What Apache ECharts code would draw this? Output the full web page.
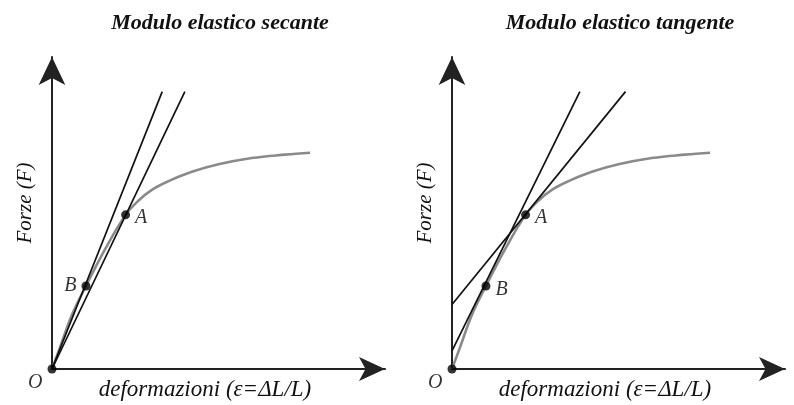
<!DOCTYPE html>
<html>
<head>
<meta charset="utf-8">
<script src="https://cdn.jsdelivr.net/npm/echarts@6/dist/echarts.min.js"></script>
<style>
  html, body { margin: 0; padding: 0; background: #fff; }
  #chart { width: 794px; height: 405px; }
</style>
</head>
<body>
<div id="chart"></div>
<script>
// stress-strain curve (same in both panels)
const curve = [
  [0, 0], [0.25, 0.72], [0.6, 1.74], [1.02, 2.66], [1.6, 3.85],
  [2.21, 4.94], [2.6, 5.4], [3.0, 5.74], [3.5, 6.02], [4.2, 6.32],
  [5.0, 6.56], [6.0, 6.76], [7.0, 6.87], [7.75, 6.93]
]
const pointA = [2.21, 4.94]
const pointB = [1.02, 2.66]

// left panel: secant lines from O
const secantB = [[0, 0], [3.31, 8.89]]
const secantA = [[0, 0], [3.99, 8.89]]

// right panel: tangent lines
const tangentB = [[0, 0.58], [3.84, 8.89]]
const tangentA = [[0, 2.07], [5.21, 8.89]]

const panelTitles = ['Modulo elastico secante', 'Modulo elastico tangente']
const xName = 'deformazioni (ε=ΔL/L)'
const yName = 'Forze (F)'

const serif = '"Liberation Serif", "DejaVu Serif", serif'
const ink = '#111'

const chart = echarts.init(document.getElementById('chart'))

const makeAxis = (gridIndex, isY) => ({
  type: 'value',
  gridIndex,
  min: 0,
  max: 10,
  axisLine: {
    show: true,
    onZero: false,
    symbol: ['none', 'arrow'],
    symbolSize: isY ? [20, 28] : [18, 26],
    lineStyle: { color: '#222', width: 2 },
  },
  axisTick: { show: false },
  axisLabel: { show: false },
  splitLine: { show: false },
})

const pointLabel = (name, position, offset) => ({
  name,
  label: { show: true, position, offset, formatter: '{b}' },
})

const dots = (idx, bPos, bOff) => ({
  type: 'scatter',
  xAxisIndex: idx,
  yAxisIndex: idx,
  symbolSize: 9,
  itemStyle: { color: '#000' },
  z: 5,
  label: {
    fontFamily: serif,
    fontStyle: 'italic',
    fontSize: 20,
    color: '#000',
  },
  data: [
    { value: [0, 0], ...pointLabel('O', 'left', [0, 14]) },
    { value: pointA, ...pointLabel('A', 'right', [0, 3]) },
    { value: pointB, ...pointLabel('B', bPos, bOff) },
  ],
})

const straight = (idx, data) => ({
  type: 'line',
  xAxisIndex: idx,
  yAxisIndex: idx,
  symbol: 'none',
  lineStyle: { color: ink, width: 1.7 },
  z: 3,
  data,
})

const curveSeries = (idx) => ({
  type: 'line',
  xAxisIndex: idx,
  yAxisIndex: idx,
  symbol: 'none',
  smooth: 0.4,
  lineStyle: { color: '#8a8a8a', width: 2.6 },
  z: 2,
  data: curve,
})

const panelText = (offsetX) => [
  {
    type: 'text',
    x: offsetX + 220,
    y: 23,
    style: {
      text: panelTitles[offsetX ? 1 : 0],
      font: 'italic bold 22px ' + serif,
      fill: ink,
      align: 'center',
      verticalAlign: 'middle',
    },
  },
  {
    type: 'text',
    x: offsetX + 205,
    y: 390,
    style: {
      text: xName,
      font: 'italic 23px ' + serif,
      fill: ink,
      align: 'center',
      verticalAlign: 'middle',
    },
  },
  {
    type: 'text',
    x: offsetX + 25,
    y: 203,
    rotation: Math.PI / 2,
    style: {
      text: yName,
      font: 'italic 21px ' + serif,
      fill: ink,
      align: 'center',
      verticalAlign: 'middle',
    },
  },
]

const option = {
  animation: false,
  backgroundColor: '#fff',
  grid: [
    { left: 52, top: 57, width: 333, height: 312 },
    { left: 452, top: 57, width: 333, height: 312 },
  ],
  xAxis: [makeAxis(0, false), makeAxis(1, false)],
  yAxis: [makeAxis(0, true), makeAxis(1, true)],
  graphic: [...panelText(0), ...panelText(400)],
  series: [
    curveSeries(0),
    straight(0, secantB),
    straight(0, secantA),
    dots(0, 'left', [0, 0]),
    curveSeries(1),
    straight(1, tangentB),
    straight(1, tangentA),
    dots(1, 'right', [0, 4]),
  ],
}

chart.setOption(option)
</script>
</body>
</html>
